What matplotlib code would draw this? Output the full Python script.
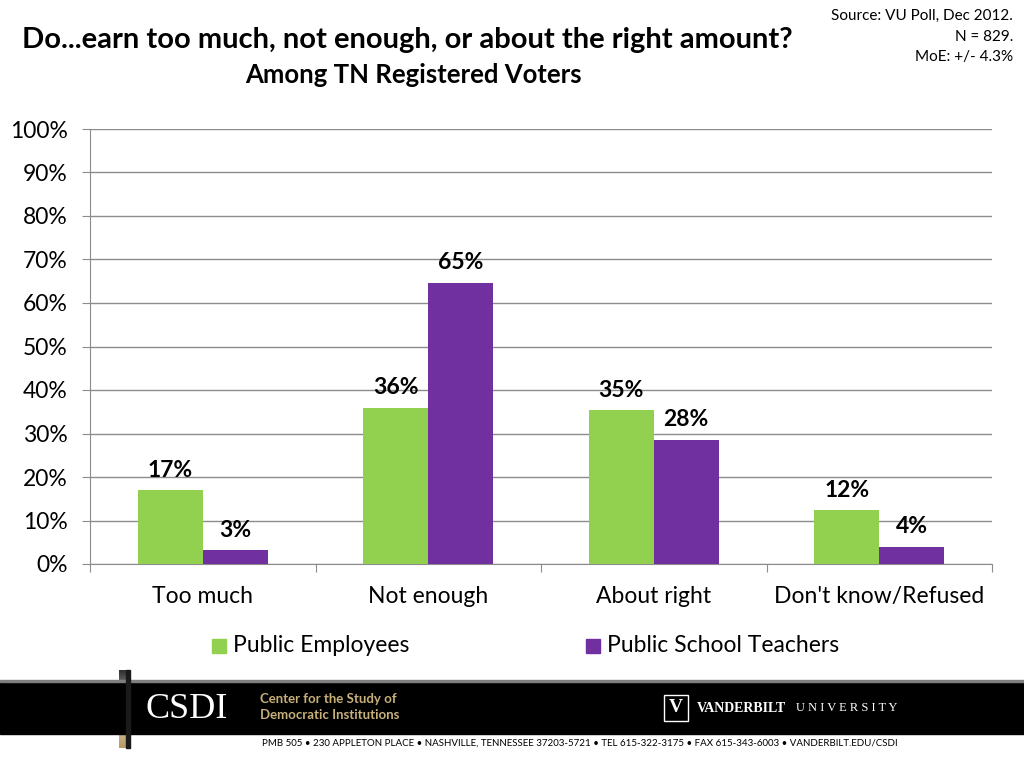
import matplotlib
matplotlib.use("Agg")
import matplotlib.pyplot as plt
import numpy as np
from matplotlib.patches import Rectangle
from matplotlib.colors import LinearSegmentedColormap

plt.rcParams['font.family'] = ['Lato', 'DejaVu Sans']

categories = ["Too much", "Not enough", "About right", "Don't know/Refused"]
public_employees = [17.0, 35.9, 35.3, 12.3]
public_teachers = [3.2, 64.6, 28.6, 4.0]
labels_employees = ["17%", "36%", "35%", "12%"]
labels_teachers = ["3%", "65%", "28%", "4%"]
series_names = ["Public Employees", "Public School Teachers"]
yticks = list(range(0, 101, 10))
ytick_labels = [f"{v}%" for v in yticks]

GREEN = "#92D050"
PURPLE = "#7030A0"

fig = plt.figure(figsize=(10.24, 7.68), dpi=100)
W, H = 1024, 768

def fx(px):
    return px / W

def fy(py):
    return 1 - py / H

ax = fig.add_axes([fx(90), fy(564), fx(992) - fx(90), fy(129) - fy(564)])
x = np.arange(len(categories))
bw = 65 / 225.5
ax.bar(x - bw / 2, public_employees, bw, color=GREEN, zorder=3)
ax.bar(x + bw / 2, public_teachers, bw, color=PURPLE, zorder=3)

off = 20 / 435 * 100
for i in range(len(categories)):
    ax.text(x[i] - bw / 2, public_employees[i] + off, labels_employees[i],
            ha='center', va='center', fontsize=16.5, fontweight='bold')
    ax.text(x[i] + bw / 2, public_teachers[i] + off, labels_teachers[i],
            ha='center', va='center', fontsize=16.5, fontweight='bold')

ax.set_xlim(-0.5, len(categories) - 0.5)
ax.set_ylim(0, 100)
ax.set_yticks(yticks)
ax.set_yticklabels(ytick_labels, fontsize=16.5)
ax.yaxis.grid(True, color='#8c8c8c', linewidth=1, zorder=0)
ax.set_axisbelow(True)
for s in ['top', 'right']:
    ax.spines[s].set_visible(False)
ax.spines['left'].set_color('#8c8c8c')
ax.spines['bottom'].set_color('#8c8c8c')
ax.tick_params(axis='y', length=6, color='#8c8c8c', pad=10)
ax.set_xticks(np.arange(-0.5, len(categories), 1.0))
ax.set_xticklabels([])
ax.tick_params(axis='x', length=6, color='#8c8c8c')
for i, c in enumerate(categories):
    ax.text(x[i], -7.5, c, ha='center', va='center', fontsize=16.5,
            transform=ax.transData)

# legend
fig.patches.append(Rectangle((fx(212), fy(653)), fx(14), fy(639) - fy(653),
                             transform=fig.transFigure, color=GREEN))
fig.text(fx(233), fy(646), series_names[0], fontsize=16.5, va='center')
fig.patches.append(Rectangle((fx(586), fy(653)), fx(14), fy(639) - fy(653),
                             transform=fig.transFigure, color=PURPLE))
fig.text(fx(607), fy(646), series_names[1], fontsize=16.5, va='center')

# titles
fig.text(fx(22), fy(40), "Do...earn too much, not enough, or about the right amount?",
         fontsize=21, fontweight='bold', va='center', ha='left')
fig.text(fx(413), fy(75), "Among TN Registered Voters",
         fontsize=18.5, fontweight='bold', va='center', ha='center')
fig.text(fx(1013), fy(16), "Source: VU Poll, Dec 2012.", fontsize=11, ha='right', va='center')
fig.text(fx(1013), fy(37), "N = 829.", fontsize=11, ha='right', va='center')
fig.text(fx(1013), fy(57), "MoE: +/- 4.3%", fontsize=11, ha='right', va='center')

# footer
fig.patches.append(Rectangle((0, fy(734)), 1, fy(681) - fy(734),
                             transform=fig.transFigure, color='black'))
fig.patches.append(Rectangle((0, fy(682)), 1, fy(680) - fy(682),
                             transform=fig.transFigure, color='#7f7f7f'))
gax = fig.add_axes([fx(119), fy(748), fx(7), fy(670) - fy(748)])
grad = np.linspace(0, 1, 100).reshape(-1, 1)
cmap = LinearSegmentedColormap.from_list('g', ['#303030', '#e0e0e0', '#b89a60'])
gax.imshow(grad, aspect='auto', cmap=cmap, origin='upper')
gax.axis('off')
fig.patches.append(Rectangle((fx(126), fy(748)), fx(4), fy(670) - fy(748),
                             transform=fig.transFigure, color='#1a1a1a'))
fig.text(fx(187), fy(709), "CSDI", fontsize=26, color='white', family=['Liberation Serif', 'DejaVu Serif'],
         ha='center', va='center')
fig.text(fx(260), fy(699), "Center for the Study of", fontsize=9.5, color='#c8b07a',
         family=['Lato', 'DejaVu Sans'], fontweight='bold', va='center')
fig.text(fx(260), fy(715), "Democratic Institutions", fontsize=9.5, color='#c8b07a',
         family=['Lato', 'DejaVu Sans'], fontweight='bold', va='center')
fig.patches.append(Rectangle((fx(664), fy(721)), fx(24), fy(695) - fy(721),
                             transform=fig.transFigure, facecolor='black', edgecolor='white', linewidth=1))
fig.text(fx(676), fy(708), "V", fontsize=14, color='white', fontweight='bold',
         family=['Liberation Serif', 'DejaVu Serif'], ha='center', va='center')
fig.text(fx(697), fy(708), "VANDERBILT", fontsize=10, color='white', fontweight='bold',
         family=['Liberation Serif', 'DejaVu Serif'], va='center')
fig.text(fx(796), fy(708), "U N I V E R S I T Y", fontsize=9, color='white',
         family=['Liberation Serif', 'DejaVu Serif'], va='center')
fig.text(fx(262), fy(743),
         "PMB 505 \u2022 230 APPLETON PLACE \u2022 NASHVILLE, TENNESSEE 37203-5721 \u2022 TEL 615-322-3175 \u2022 FAX 615-343-6003 \u2022 VANDERBILT.EDU/CSDI",
         fontsize=7, color='black', family=['Lato', 'DejaVu Sans'], va='center')

fig.savefig("out.png", dpi=100)
